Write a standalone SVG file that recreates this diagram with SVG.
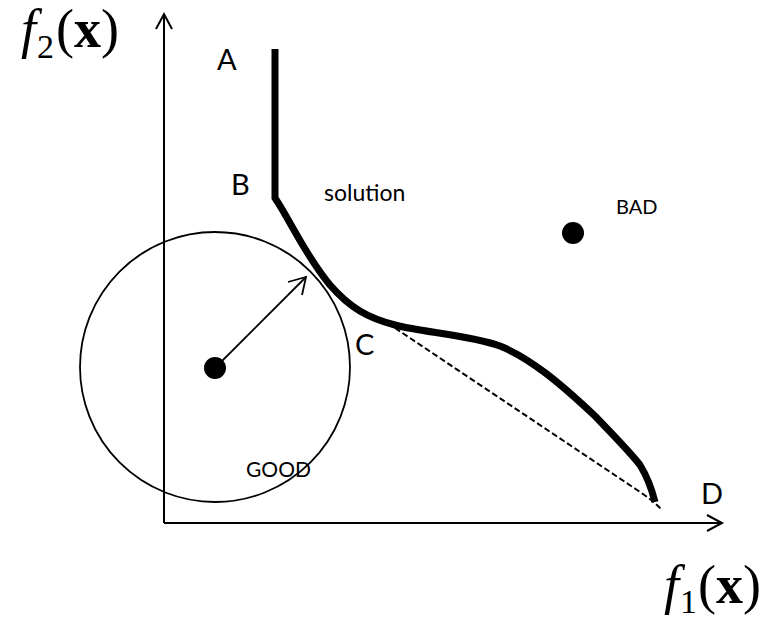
<svg xmlns="http://www.w3.org/2000/svg" width="771" height="619" viewBox="0 0 771 619">
<defs>
<style>
.ax{fill:none;stroke:#000;stroke-width:2}
.thin{fill:none;stroke:#000;stroke-width:1.8}
.lbl{font-family:Lato,"Open Sans",sans-serif;fill:#000}
.math{font-family:"Liberation Serif","Times New Roman",serif;fill:#000}
</style>
</defs>
<rect width="771" height="619" fill="#fff"/>
<g id="axes">
<path class="ax" d="M164,523 V14 M156,29 L164,14 L172,29"/>
<path class="ax" d="M164,523 H721 M707,515 L722,523 L707,531"/>
</g>
<g id="circle">
<circle cx="215" cy="367" r="135" class="thin"/>
</g>
<g id="connectors">
<path class="thin" d="M215,368 L306,277"/>
<path class="thin" d="M288,282 L306,277 L302,295"/>
<path fill="none" stroke="#000" stroke-width="2" stroke-dasharray="6,3" d="M395,328 L640,492 Q652,500 661,509"/>
<path fill="none" stroke="#000" stroke-width="7" stroke-linejoin="miter" d="M275,49 L275,198 C290,220 305,255 330,285 C350,308 368,318 395,325 C420,332 470,335 500,346 C530,358 560,383 595,416 C615,437 630,452 640,465 C648,478 652,490 655,502"/>
</g>
<g id="good"><circle cx="215" cy="368" r="11" fill="#000"/><text class="lbl" x="246" y="477" font-size="21">GOOD</text></g>
<g id="bad"><circle cx="573" cy="233" r="11" fill="#000"/><text class="lbl" x="616" y="214" font-size="20">BAD</text></g>
<g id="labels">
<text class="lbl" x="217" y="70" font-size="29">A</text>
<text class="lbl" x="231" y="195" font-size="29">B</text>
<text class="lbl" x="355" y="355" font-size="29">C</text>
<text class="lbl" x="701" y="504" font-size="29">D</text>
<text class="lbl" x="324" y="201" font-size="23">solution</text>
</g>
<g id="f2"><text class="math" x="21" y="47" font-size="54"><tspan font-style="italic">f</tspan><tspan font-size="34" dy="11" dx="1">2</tspan><tspan dy="-11" dx="2">(</tspan><tspan font-weight="bold">x</tspan><tspan>)</tspan></text></g>
<g id="f1"><text class="math" x="664" y="603" font-size="54"><tspan font-style="italic">f</tspan><tspan font-size="34" dy="10" dx="1">1</tspan><tspan dy="-10" dx="1">(</tspan><tspan font-weight="bold">x</tspan><tspan>)</tspan></text></g>
</svg>
